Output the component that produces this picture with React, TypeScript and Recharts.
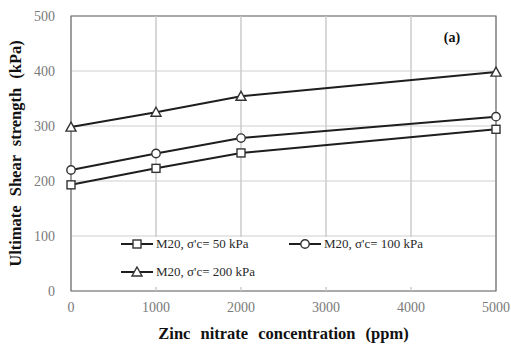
import React from 'react';
import {
  LineChart,
  Line,
  XAxis,
  YAxis,
  CartesianGrid,
  ReferenceArea,
  Label,
} from 'recharts';

// Zinc nitrate concentration (ppm)
const concentration = [0, 1000, 2000, 5000];

// Ultimate shear strength (kPa) per confining pressure
const shear50 = [193, 223, 251, 294];
const shear100 = [220, 250, 278, 317];
const shear200 = [298, 325, 354, 398];

const xTicks = [0, 1000, 2000, 3000, 4000, 5000];
const yTicks = [0, 100, 200, 300, 400, 500];

const seriesNames = ["M20, σ'c= 50 kPa", "M20, σ'c= 100 kPa", "M20, σ'c= 200 kPa"];

const data = concentration.map((c, i) => ({
  c,
  s50: shear50[i],
  s100: shear100[i],
  s200: shear200[i],
}));

// one two-point segment per inner x tick, spanning the full y range
const gridSegments = xTicks.slice(1, -1).map((t) => [
  { c: t, g: yTicks[0] },
  { c: t, g: yTicks[yTicks.length - 1] },
]);

const SERIF = '"Liberation Serif", "Times New Roman", serif';
const LINE = '#1e1e1e';
const GRID = '#cfcfcf';

type Shape = 'square' | 'circle' | 'triangle';

function Marker({ cx, cy, shape }: { cx: number; cy: number; shape: Shape }) {
  const common = { fill: '#fff', stroke: '#333', strokeWidth: 1.4 };
  if (shape === 'square') return <rect x={cx - 4} y={cy - 4} width={8} height={8} {...common} />;
  if (shape === 'circle') return <circle cx={cx} cy={cy} r={4.2} {...common} />;
  return <polygon points={`${cx},${cy - 5} ${cx + 5},${cy + 4} ${cx - 5},${cy + 4}`} {...common} />;
}

const dotFor = (shape: Shape) => (props: any) => (
  <Marker key={`${shape}-${props.index}`} cx={props.cx} cy={props.cy} shape={shape} />
);

function LegendIcon({ shape }: { shape: Shape }) {
  return (
    <svg width={34} height={12} style={{ marginRight: 2 }}>
      <line x1={1} y1={6} x2={33} y2={6} stroke={LINE} strokeWidth={2} />
      <Marker cx={17} cy={6} shape={shape} />
    </svg>
  );
}

// legend box sits inside the plot area, over the lower gridlines
function ChartLegend() {
  const shapes: Shape[] = ['square', 'circle', 'triangle'];
  const item = (i: number) => (
    <span style={{ display: 'inline-flex', alignItems: 'center', width: 168 }}>
      <LegendIcon shape={shapes[i]} />
      <span>{seriesNames[i]}</span>
    </span>
  );
  return (
    <div
      style={{
        position: 'absolute',
        left: 101,
        top: 237,
        width: 393,
        height: 50,
        background: '#fff',
        fontFamily: SERIF,
        fontSize: 13,
        color: '#2a2a2a',
        paddingLeft: 19,
        boxSizing: 'border-box',
      }}
    >
      <div style={{ height: 14, display: 'flex', alignItems: 'center' }}>
        {item(0)}
        {item(1)}
      </div>
      <div style={{ height: 24, marginTop: 9, display: 'flex', alignItems: 'center' }}>{item(2)}</div>
    </div>
  );
}

const tickStyle = { fontFamily: SERIF, fontSize: 14, fill: '#7a7a7a' };

export default function App() {
  return (
    <div style={{ position: 'absolute', left: 0, top: 0, width: 511, height: 345, background: '#fff' }}>
      <LineChart width={511} height={345} data={data} margin={{ top: 16, right: 15, left: 21, bottom: 24 }}>
        <CartesianGrid stroke={GRID} strokeWidth={1} />
        {gridSegments.map((seg, i) => (
          <Line
            key={`grid-${i}`}
            data={seg}
            dataKey="g"
            type="linear"
            stroke={GRID}
            strokeWidth={1.3}
            dot={false}
            activeDot={false}
            legendType="none"
            isAnimationActive={false}
          />
        ))}
        <XAxis
          dataKey="c"
          type="number"
          domain={[0, 5000]}
          ticks={xTicks}
          tick={tickStyle}
          tickLine={false}
          axisLine={false}
          tickMargin={5}
          height={30}
        >
          <Label
            content={({ viewBox }: any) => (
              <text
                x={viewBox.x + viewBox.width / 2}
                y={viewBox.y + 48}
                textAnchor="middle"
                fontFamily={SERIF}
                fontSize={16.5}
                fontWeight="bold"
                fill="#111"
                wordSpacing={6}
              >
                Zinc nitrate concentration (ppm)
              </text>
            )}
          />
        </XAxis>
        <YAxis
          type="number"
          domain={[0, 500]}
          ticks={yTicks}
          tick={tickStyle}
          tickLine={false}
          axisLine={false}
          tickMargin={10}
          width={50}
        >
          <Label
            content={({ viewBox }: any) => {
              const x = 21;
              const y = viewBox.y + viewBox.height / 2;
              return (
                <text
                  x={x}
                  y={y}
                  transform={`rotate(-90 ${x} ${y})`}
                  textAnchor="middle"
                  fontFamily={SERIF}
                  fontSize={16.5}
                  fontWeight="bold"
                  fill="#111"
                  wordSpacing={5}
                >
                  Ultimate Shear strength (kPa)
                </text>
              );
            }}
          />
        </YAxis>
        <ReferenceArea x1={0} x2={5000} y1={0} y2={500} fill="none" stroke="#6e6e6e" strokeWidth={1.2} ifOverflow="visible" />
        <Line dataKey="s50" type="linear" stroke={LINE} strokeWidth={2} dot={dotFor('square')} isAnimationActive={false} />
        <Line dataKey="s100" type="linear" stroke={LINE} strokeWidth={2} dot={dotFor('circle')} isAnimationActive={false} />
        <Line dataKey="s200" type="linear" stroke={LINE} strokeWidth={2} dot={dotFor('triangle')} isAnimationActive={false} />
        <text x={452} y={42} textAnchor="middle" fontFamily={SERIF} fontSize={14} fontWeight="bold" fill="#111">
          (a)
        </text>
      </LineChart>
      <ChartLegend />
    </div>
  );
}
